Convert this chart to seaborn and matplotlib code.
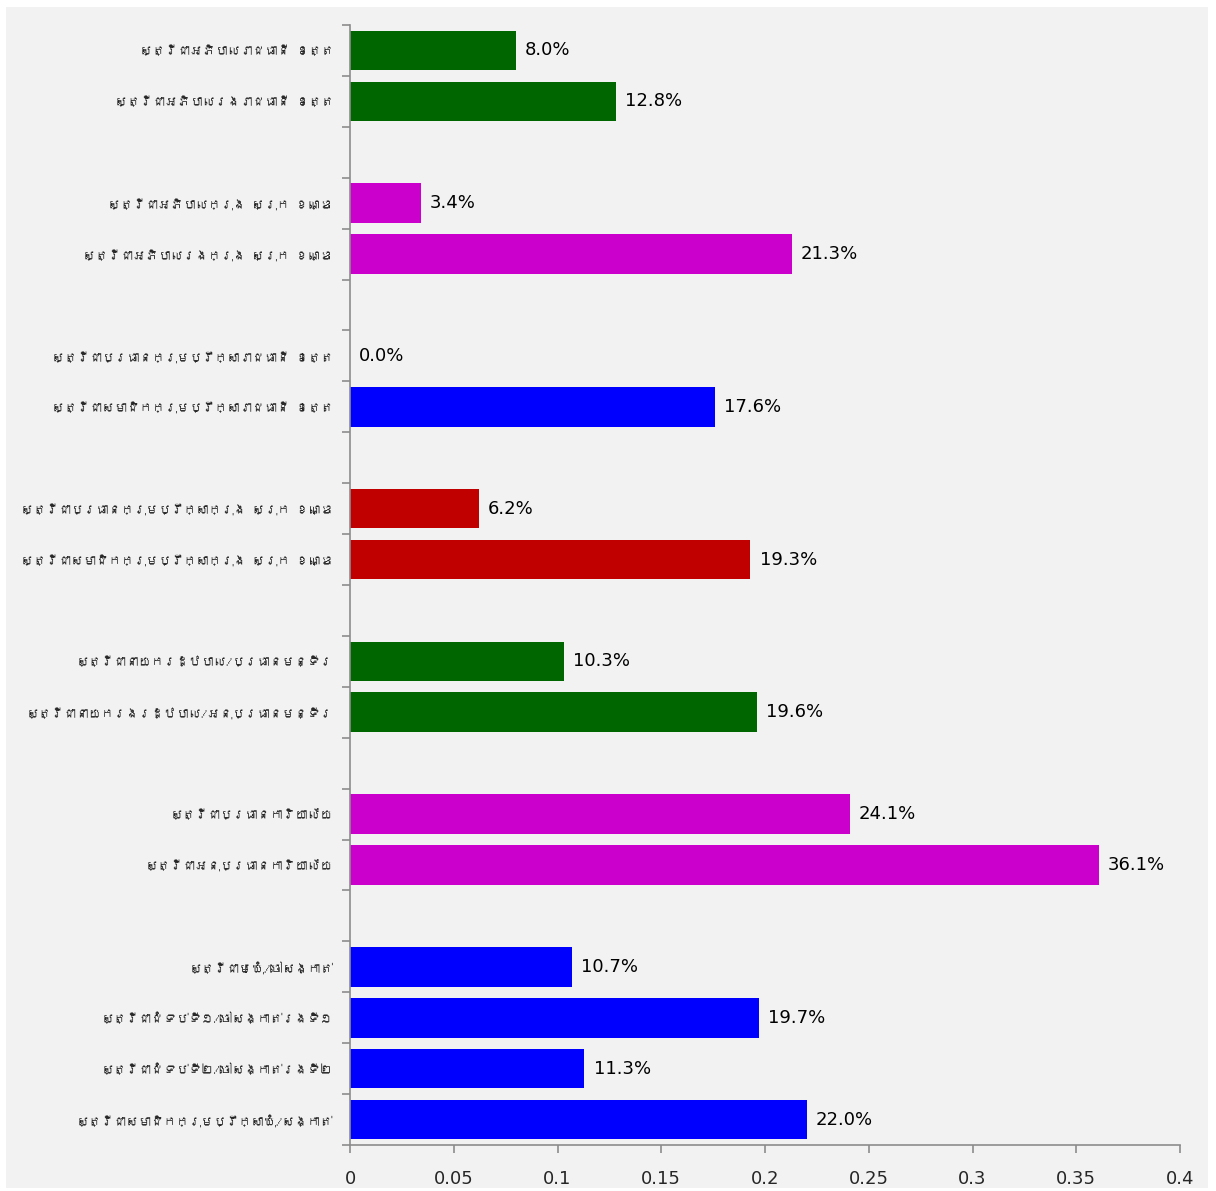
import pandas as pd
import matplotlib
matplotlib.use("Agg")
import matplotlib.pyplot as plt
from matplotlib import font_manager
from matplotlib.ft2font import FT2Font
from matplotlib.patches import Rectangle
import seaborn as sns

# categories from top to bottom ("" entries are the gaps between groups)
labels = [
    "ស្ត្រីជាអភិបាលរាជធានី ខេត្ត",
    "ស្ត្រីជាអភិបាលរងរាជធានី ខេត្ត",
    "",
    "ស្ត្រីជាអភិបាលក្រុង ស្រុក ខណ្ឌ",
    "ស្ត្រីជាអភិបាលរងក្រុង ស្រុក ខណ្ឌ",
    "",
    "ស្ត្រីជាប្រធានក្រុមប្រឹក្សារាជធានី ខេត្ត",
    "ស្ត្រីជាសមាជិកក្រុមប្រឹក្សារាជធានី ខេត្ត",
    "",
    "ស្ត្រីជាប្រធានក្រុមប្រឹក្សាក្រុង ស្រុក ខណ្ឌ",
    "ស្ត្រីជាសមាជិកក្រុមប្រឹក្សាក្រុង ស្រុក ខណ្ឌ",
    "",
    "ស្ត្រីជានាយករដ្ឋបាល/ប្រធានមន្ទីរ",
    "ស្ត្រីជានាយករងរដ្ឋបាល/អនុប្រធានមន្ទីរ",
    "",
    "ស្ត្រីជាប្រធានការិយាល័យ",
    "ស្ត្រីជាអនុប្រធានការិយាល័យ",
    "",
    "ស្ត្រីជាមេឃុំ/ចៅសង្កាត់",
    "ស្ត្រីជាជំទប់ទី១/ចៅសង្កាត់រងទី១",
    "ស្ត្រីជាជំទប់ទី២/ចៅសង្កាត់រងទី២",
    "ស្ត្រីជាសមាជិកក្រុមប្រឹក្សាឃុំ/សង្កាត់",
]
values = [0.080, 0.128, None, 0.034, 0.213, None, 0.0, 0.176, None,
          0.062, 0.193, None, 0.103, 0.196, None, 0.241, 0.361, None,
          0.107, 0.197, 0.113, 0.220]
colors = ["#006600", "#006600", "#f2f2f2", "#cc00cc", "#cc00cc", "#f2f2f2",
          "#0000ff", "#0000ff", "#f2f2f2", "#c00000", "#c00000", "#f2f2f2",
          "#006600", "#006600", "#f2f2f2", "#cc00cc", "#cc00cc", "#f2f2f2",
          "#0000ff", "#0000ff", "#0000ff", "#0000ff"]
xticks = [0, 0.05, 0.1, 0.15, 0.2, 0.25, 0.3, 0.35, 0.4]
xtick_labels = ["0", "0.05", "0.1", "0.15", "0.2", "0.25", "0.3", "0.35", "0.4"]


def find_khmer_font():
    for f in font_manager.fontManager.ttflist:
        try:
            cmap = FT2Font(f.fname).get_charmap()
        except Exception:
            continue
        if 0x179F in cmap and 0x17D2 in cmap:
            return f.name
    return None


# unique keys so blank rows stay separate categories
keys = [f"c{i}" for i in range(len(labels))]
df = pd.DataFrame({"key": keys, "value": [v if v is not None else 0 for v in values]})

sns.set_theme(style="white")
khmer = find_khmer_font()
families = ([khmer] if khmer else []) + ["DejaVu Sans"]
plt.rcParams["font.family"] = families

fig = plt.figure(figsize=(12.16, 11.91), dpi=100)
fig.patch.set_facecolor("white")
fig.patches.append(Rectangle((6 / 1216, 3 / 1191), 1202 / 1216, 1181 / 1191,
                             transform=fig.transFigure, facecolor="#f2f2f2",
                             edgecolor="none", zorder=-10))
ax = fig.add_axes([350 / 1216, 46 / 1191, 830 / 1216, 1120 / 1191])
ax.set_facecolor("none")

sns.barplot(data=df, x="value", y="key", hue="key", order=keys,
            palette=dict(zip(keys, colors)), legend=False, orient="h",
            width=0.78, linewidth=0, saturation=1, ax=ax)

for i, v in enumerate(values):
    if v is None:
        continue
    ax.annotate(f"{v * 100:.1f}%", xy=(v, i), xytext=(6.5, 0),
                textcoords="offset points", va="center", ha="left",
                fontsize=13, color="black", family="DejaVu Sans")

ax.set_xlim(0, 0.4)
ax.set_ylim(len(keys) - 0.5, -0.5)
ax.set_xticks(xticks)
ax.set_xticklabels(xtick_labels, fontsize=13, family="DejaVu Sans")
ax.set_yticks(range(len(keys)))
ax.set_yticklabels(labels, fontsize=9)
ax.set_yticks([i - 0.5 for i in range(len(keys) + 1)], minor=True)
ax.tick_params(axis="y", which="major", length=0, pad=12)
ax.tick_params(axis="y", which="minor", length=6, width=1.2, color="#8c8c8c", left=True)
ax.tick_params(axis="x", length=6, width=1.2, color="#8c8c8c", bottom=True, pad=12)
ax.set_xlabel("")
ax.set_ylabel("")

sns.despine(ax=ax, top=True, right=True)
for side in ["left", "bottom"]:
    ax.spines[side].set_color("#8c8c8c")
    ax.spines[side].set_linewidth(1.2)

fig.savefig("out.png", dpi=100)
